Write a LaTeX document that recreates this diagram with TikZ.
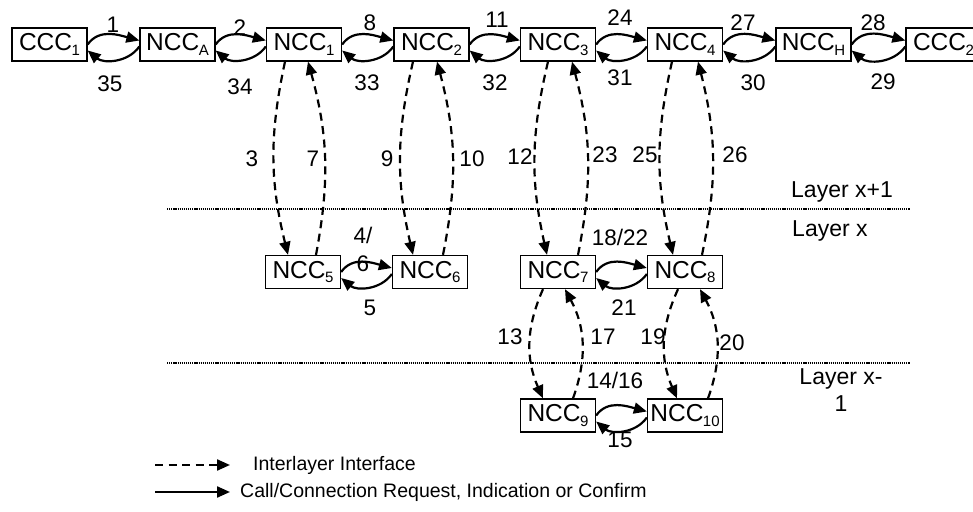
\documentclass[tikz,border=0pt]{standalone}
\usepackage{fontspec}
\setmainfont{Liberation Sans}
\usetikzlibrary{arrows.meta}
\newcommand{\subs}[1]{\kern-0.5pt\raisebox{-4.5pt}{\fontsize{15}{15}\selectfont #1}}
\begin{document}
\begin{tikzpicture}[x=1pt,y=1pt,
  box/.style={draw, line width=1.3pt, minimum width=75pt, minimum height=33pt, inner sep=0pt, font=\fontsize{24.5}{28}\selectfont},
  call/.style={line width=2.2pt, -{Triangle[length=13pt,width=11pt]}},
  iface/.style={line width=2.2pt, dash pattern=on 8pt off 5.5pt, -{Triangle[length=13pt,width=11pt]}},
  lbl/.style={font=\fontsize{22.5}{28}\selectfont, inner sep=0pt, align=center},
  leg/.style={font=\fontsize{19.5}{23}\selectfont, inner sep=0pt, anchor=west},
  layerline/.style={line width=1.6pt, dash pattern=on 1.2pt off 0.9pt}]
\useasboundingbox (0,0) rectangle (973,511);
% top row
\node[box] (c1) at (49.5,466.5) {CCC\subs{1}};
\node[box] (na) at (177.5,466.5) {NCC\subs{A}};
\node[box] (n1) at (304,466.5) {NCC\subs{1}};
\node[box] (n2) at (431.5,466.5) {NCC\subs{2}};
\node[box] (n3) at (558,466.5) {NCC\subs{3}};
\node[box] (n4) at (685,466.5) {NCC\subs{4}};
\node[box] (nh) at (813.5,466.5) {NCC\subs{H}};
\node[box] (c2) at (943.5,466.5) {CCC\subs{2}};
% middle row
\node[box] (n5) at (303,239) {NCC\subs{5}};
\node[box] (n6) at (430,239) {NCC\subs{6}};
\node[box] (n7) at (558,239) {NCC\subs{7}};
\node[box] (n8) at (685,239) {NCC\subs{8}};
% bottom row
\node[box] (n9) at (558,95.5) {NCC\subs{9}};
\node[box] (n10) at (685,95.5) {NCC\subs{10}};
% horizontal call arrows
\foreach \a/\b in {c1/na, na/n1, n1/n2, n2/n3, n3/n4, n4/nh, nh/c2, n5/n6, n7/n8, n9/n10}{
  \draw[call] (\a.east) to[out=55,in=165] ([yshift=4]\b.west);
  \draw[call] ([yshift=-2]\b.west) to[out=-125,in=-40] ([yshift=-6]\a.east);
}
% layer lines
\coordinate (l1a) at (167,302); \coordinate (l1b) at (910,302);
\coordinate (l2a) at (167,148); \coordinate (l2b) at (910,148);
\draw[layerline] (l1a) -- (l1b);
\draw[layerline] (l2a) -- (l2b);
% interlayer arrows
\draw[iface] ([xshift=-19]n1.south) to[bend right=13] ([xshift=-15]n5.north);
\draw[iface] ([xshift=13]n5.north) to[bend right=13] ([xshift=4]n1.south);
\draw[iface] ([xshift=-18.5]n2.south) to[bend right=13] ([xshift=-17]n6.north);
\draw[iface] ([xshift=13]n6.north) to[bend right=13] ([xshift=5.5]n2.south);
\draw[iface] ([xshift=-10]n3.south) to[bend right=13] ([xshift=-11]n7.north);
\draw[iface] ([xshift=20]n7.north) to[bend right=13] ([xshift=14]n3.south);
\draw[iface] ([xshift=-13]n4.south) to[bend right=13] ([xshift=-12]n8.north);
\draw[iface] ([xshift=17]n8.north) to[bend right=13] ([xshift=13]n4.south);
\draw[iface] ([xshift=-15]n7.south) to[bend right=24] ([xshift=-15]n9.north);
\draw[iface] ([xshift=15]n9.north) to[bend right=24] ([xshift=7]n7.south);
\draw[iface] ([xshift=-7]n8.south) to[bend right=24] ([xshift=-8]n10.north);
\draw[iface] ([xshift=23]n10.north) to[bend right=24] ([xshift=15]n8.south);
% top labels
\node[lbl] (t1) at (113,486) {1};
\node[lbl] (t35) at (110,427) {35};
\node[lbl] (t2) at (240,483) {2};
\node[lbl] (t34) at (240,424) {34};
\node[lbl] (t8) at (370,488) {8};
\node[lbl] (t33) at (367,428) {33};
\node[lbl] (t11) at (497,491) {11};
\node[lbl] (t32) at (495,428) {32};
\node[lbl] (t24) at (620,493) {24};
\node[lbl] (t31) at (620,433) {31};
\node[lbl] (t27) at (743,488) {27};
\node[lbl] (t30) at (753,428) {30};
\node[lbl] (t28) at (873,488) {28};
\node[lbl] (t29) at (883,429) {29};
% vertical labels
\node[lbl] (t3) at (252,352) {3};
\node[lbl] (t7) at (313,352) {7};
\node[lbl] (t9) at (387,352) {9};
\node[lbl] (t10) at (472,352) {10};
\node[lbl] (t12) at (520,354) {12};
\node[lbl] (t23) at (605,356) {23};
\node[lbl] (t25) at (645,356) {25};
\node[lbl] (t26) at (735,356) {26};
\node[lbl] (t13) at (510,174) {13};
\node[lbl] (t17) at (603,174) {17};
\node[lbl] (t19) at (653,174) {19};
\node[lbl] (t20) at (732,168) {20};
% middle/bottom labels
\node[lbl] (t46) at (363,262) {4/\\6};
\node[lbl] (t5) at (370,203) {5};
\node[lbl] (t1822) at (620,274) {18/22};
\node[lbl] (t21) at (624,203) {21};
\node[lbl] (t1416) at (615,131) {14/16};
\node[lbl] (t15) at (620,71) {15};
% layer labels
\node[lbl, font=\fontsize{23}{27}\selectfont] (lx1) at (842,319) {Layer x+1};
\node[lbl, font=\fontsize{23}{27}\selectfont, anchor=west] (lx) at (792,280) {Layer x};
\node[lbl, font=\fontsize{23}{27}\selectfont] (lxm) at (841,120.5) {Layer x-\\1};
% legend
\coordinate (d1) at (155,46); \coordinate (d2) at (230,46);
\coordinate (s1) at (155,19); \coordinate (s2) at (230,19);
\draw[iface] (d1) -- (d2);
\draw[call] (s1) -- (s2);
\node[leg] (legd) at (253,46) {Interlayer Interface};
\node[leg] (legs) at (240,19) {Call/Connection Request, Indication or Confirm};
\end{tikzpicture}
\end{document}
